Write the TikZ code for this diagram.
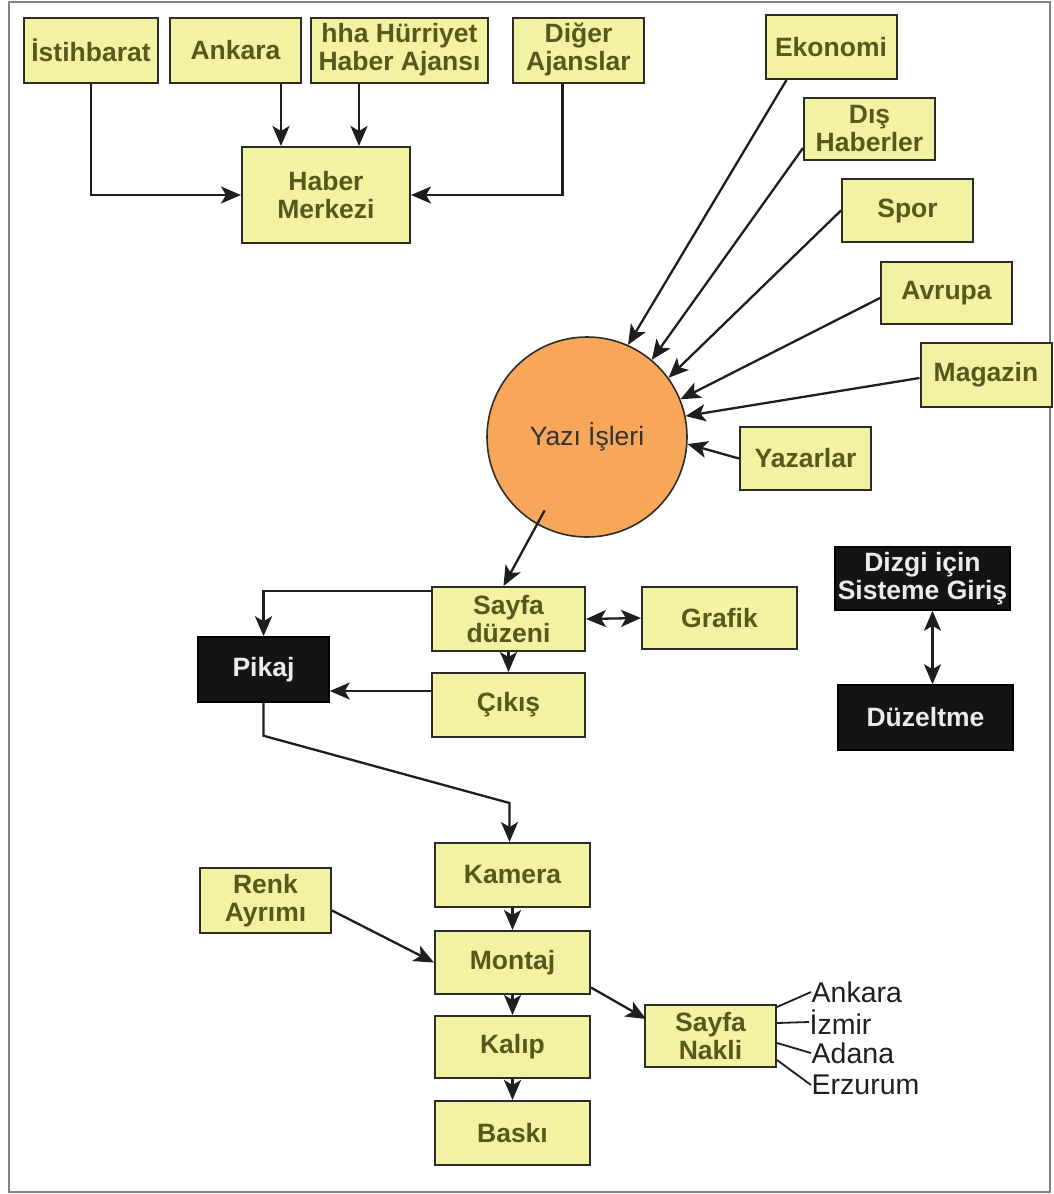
\documentclass[tikz,border=0pt]{standalone}
\usepackage{fontspec}
\setmainfont{Liberation Sans}
\usetikzlibrary{arrows.meta,calc}
\definecolor{boxfill}{RGB}{242,242,162}
\definecolor{boxline}{RGB}{45,45,40}
\definecolor{olivetext}{RGB}{88,88,30}
\definecolor{orangefill}{RGB}{248,166,90}
\definecolor{blackfill}{RGB}{20,20,20}
\definecolor{framegray}{RGB}{130,130,130}
\definecolor{linecol}{RGB}{30,30,30}
\begin{document}
\begin{tikzpicture}[x=1pt,y=-1pt,
  ybox/.style={draw=boxline, line width=2pt, fill=boxfill, text=olivetext,
    font=\fontsize{26.5}{28}\selectfont\bfseries, align=center, inner sep=0pt},
  bbox/.style={draw=black, line width=1.5pt, fill=blackfill, text=white!92!black,
    font=\fontsize{26.5}{28}\selectfont\bfseries, align=center, inner sep=0pt},
  circ/.style={circle, draw=boxline, line width=1.6pt, fill=orangefill, text=black!80,
    font=\fontsize{26.5}{28}\selectfont, minimum size=200pt, inner sep=0pt},
  arr/.style={draw=linecol, line width=2.3pt, -{Stealth[length=20pt,width=17pt,inset=5pt]}},
  darr/.style={draw=linecol, line width=2.3pt, {Stealth[length=20pt,width=17pt,inset=5pt]}-{Stealth[length=20pt,width=17pt,inset=5pt]}},
  plain/.style={draw=linecol, line width=1.8pt},
  city/.style={text=black!88, font=\fontsize{28.5}{30}\selectfont, inner sep=0.5pt, anchor=west}
]
\useasboundingbox (0,0) rectangle (1054,1194);
\fill[white] (0,0) rectangle (1054,1194);
\draw[framegray, line width=1.5pt] (9,2) rectangle (1050,1192);

% top sources
\node[ybox, minimum width=134pt, minimum height=65pt] (ist) at (91,50) {İstihbarat};
\node[ybox, minimum width=131pt, minimum height=65pt] (ank) at (235.5,50) {Ankara};
\node[ybox, minimum width=177pt, minimum height=65pt] (hha) at (399.5,50) {hha Hürriyet\\Haber Ajansı};
\node[ybox, minimum width=131pt, minimum height=65pt] (dig) at (578.5,50) {Diğer\\Ajanslar};
\node[ybox, minimum width=168pt, minimum height=96pt] (hm) at (326,195) {Haber\\Merkezi};

\draw[arr] (ist.south) |- (hm.west);
\draw[arr] ($(ank.south east)+(-21,0)$) coordinate (a1) -- (a1 |- hm.north);
\draw[arr] ($(hha.south west)+(49,0)$) coordinate (a2) -- (a2 |- hm.north);
\draw[arr] ($(dig.south)+(-16,0)$) |- (hm.east);

% right sources
\node[ybox, minimum width=131pt, minimum height=64pt] (eko) at (831,47) {Ekonomi};
\node[ybox, minimum width=131pt, minimum height=62pt] (dis) at (869.5,129) {Dış\\Haberler};
\node[ybox, minimum width=131pt, minimum height=63pt] (spo) at (907.5,210.5) {Spor};
\node[ybox, minimum width=131pt, minimum height=62pt] (avr) at (946.5,293) {Avrupa};
\node[ybox, minimum width=131pt, minimum height=64pt] (mag) at (986,375) {Magazin};
\node[ybox, minimum width=131pt, minimum height=63pt] (yaz) at (805.5,458.5) {Yazarlar};

\node[circ] (yazi) at (587,437) {Yazı İşleri};

\draw[arr] ($(eko.south west)+(22,0)$) -- (yazi.66);
\draw[arr] ($(dis.south west)+(0,-13)$) -- (yazi.50.6);
\draw[arr] (spo.west) -- (yazi.36.5);
\draw[arr] ($(avr.west)+(0,5)$) -- (yazi.22.3);
\draw[arr] ($(mag.west)+(0,3)$) -- (yazi.12.4);
\draw[arr] (yaz.west) -- (yazi.-4.5);

% middle
\node[ybox, minimum width=153pt, minimum height=64pt] (say) at (508.5,619) {Sayfa\\düzeni};
\node[ybox, minimum width=155pt, minimum height=62pt] (gra) at (719.5,618) {Grafik};
\node[bbox, minimum width=131pt, minimum height=65pt] (pik) at (263.5,669.5) {Pikaj};
\node[ybox, minimum width=153pt, minimum height=64pt] (cik) at (508.5,705) {Çıkış};

\draw[arr] ($(yazi.center)!0.84!(yazi.-120)$) -- ($(say.north)+(-5,0)$);
\draw[darr] (say.east) -- (gra.west);
\draw[arr] ($(say.north west)+(0,5)$) -| (pik.north);
\draw[arr] (say.south) -- (cik.north);
\draw[arr] ($(cik.west)+(0,-14)$) coordinate (c1) -- (c1 -| pik.east);

% right black boxes
\node[bbox, minimum width=175pt, minimum height=63pt] (diz) at (922.5,578.5) {Dizgi için\\Sisteme Giriş};
\node[bbox, minimum width=175pt, minimum height=65pt] (duz) at (925.5,717.5) {Düzeltme};
\draw[darr] ($(diz.south)+(10,0)$) coordinate (d1) -- (d1 |- duz.north);

% lower chain
\node[ybox, minimum width=155pt, minimum height=64pt] (kam) at (512.5,875) {Kamera};
\node[ybox, minimum width=155pt, minimum height=63pt] (mon) at (512.5,962.5) {Montaj};
\node[ybox, minimum width=155pt, minimum height=62pt] (kal) at (512.5,1047) {Kalıp};
\node[ybox, minimum width=155pt, minimum height=64pt] (bas) at (512.5,1133) {Baskı};
\node[ybox, minimum width=131pt, minimum height=65pt] (ren) at (265.5,900.5) {Renk\\Ayrımı};
\node[ybox, minimum width=131pt, minimum height=62pt] (nak) at (710.5,1036) {Sayfa\\Nakli};

\draw[arr] (pik.south) -- ++(0,33) -- ($(kam.north)+(-3,-39)$) -- ($(kam.north)+(-3,0)$);
\draw[arr] (kam.south) -- (mon.north);
\draw[arr] (mon.south) -- (kal.north);
\draw[arr] (kal.south) -- (bas.north);
\draw[arr] ($(ren.east)+(0,10)$) -- (mon.west);
\draw[arr] ($(mon.east)+(0,25)$) -- ($(nak.north west)+(2,15)$);

\node[city] (c-ank) at (811,992) {Ankara};
\node[city] (c-izm) at (809,1022) {İzmir};
\node[city] (c-ada) at (811,1053) {Adana};
\node[city] (c-erz) at (811,1085) {Erzurum};
\draw[plain] ($(nak.north east)+(0,3)$) -- (c-ank.west);
\draw[plain] ($(nak.east)+(0,-13)$) -- (c-izm.west);
\draw[plain] ($(nak.east)+(0,7)$) -- (c-ada.west);
\draw[plain] ($(nak.east)+(0,24)$) -- (c-erz.west);
\end{tikzpicture}
\end{document}
